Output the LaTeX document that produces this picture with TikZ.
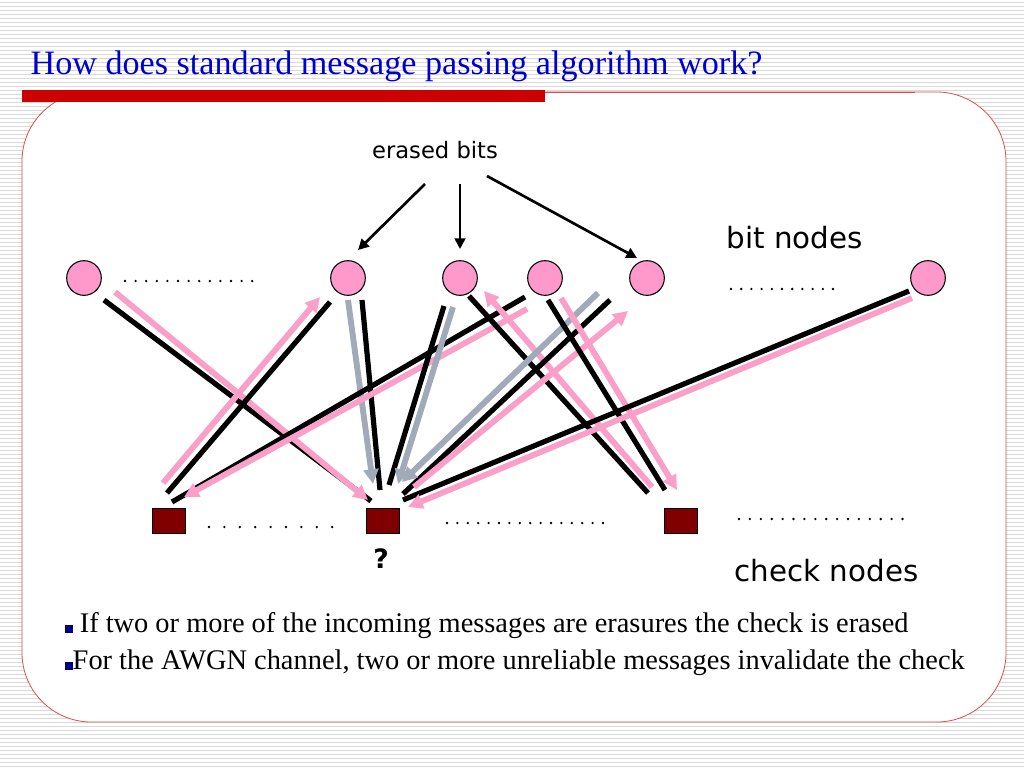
\documentclass[tikz,border=0pt]{standalone}
\usepackage{fontspec}
\setmainfont{Liberation Serif}
\setsansfont{DejaVu Sans}
\usetikzlibrary{arrows.meta}
\definecolor{pinkf}{RGB}{255,153,204}
\definecolor{pinkl}{RGB}{250,160,200}
\definecolor{grayl}{RGB}{160,170,185}
\definecolor{darkred}{RGB}{128,0,0}
\definecolor{titleblue}{RGB}{0,0,204}
\definecolor{barred}{RGB}{204,0,0}
\newcommand{\bsq}{\textcolor{blue!50!black}{\rule{6pt}{6pt}}}
\begin{document}
\begin{tikzpicture}[x=0.75pt,y=-0.75pt,
  bit/.style={circle,draw=black,line width=0.8pt,fill=pinkf,minimum size=26pt,inner sep=0pt},
  chk/.style={rectangle,draw=black,line width=0.4pt,fill=darkred,minimum width=25pt,minimum height=19pt,inner sep=0pt},
  bl/.style={line width=3.9pt,black},
  pk/.style={line width=4.4pt,pinkl,-{Triangle[length=11pt,width=11pt]}},
  gr/.style={line width=4.4pt,grayl,-{Triangle[length=11pt,width=11pt]}},
  ar/.style={line width=2pt,-{Triangle[length=8pt,width=8pt]}}]
\useasboundingbox (0,0) rectangle (1024,768);
\fill[white] (0,0) rectangle (1024,768);
\foreach \y in {2,6,...,766} \draw[gray!30,line width=0.6pt] (0,\y) -- (1024,\y);
\draw[barred!70,line width=0.6pt,fill=white,rounded corners=52pt] (22,92) rectangle (1006,722);
\fill[white] (0,0) rectangle (1024,88);
\foreach \y in {2,6,...,86} \draw[gray!30,line width=0.6pt] (0,\y) -- (1024,\y);
\fill[barred] (22,90) rectangle (545,102);
\draw[barred!70,line width=0.6pt] (545,92) -- (915,92);
\node[anchor=west,text=titleblue,font=\fontsize{25.6}{26}\selectfont] (title) at (26,66) {How does standard message passing algorithm work?};

\node[bit] (A) at (84,278) {};
\node[bit] (B) at (348,278) {};
\node[bit] (C) at (460,278) {};
\node[bit] (D) at (545,278) {};
\node[bit] (E) at (647,278) {};
\node[bit] (F) at (928,278) {};
\node[chk] (P) at (169,521) {};
\node[chk] (Q) at (383,521) {};
\node[chk] (R) at (681,521) {};

\draw[bl] (104,300) -- (371,501);
\draw[pk] (115,292) -- (368,500);
\draw[bl] (330,302) -- (167,493);
\draw[pk] (163,483) -- (320,297);
\draw[bl] (362,300) -- (380,490);
\draw[gr] (348,300) -- (373,484);
\draw[bl] (525,297) -- (172,502);
\draw[pk] (527,309) -- (184,497);
\draw[bl] (444,306) -- (389,485);
\draw[gr] (453,307) -- (398,484);
\draw[bl] (469,296) -- (648,493);
\draw[pk] (652,487) -- (484,291);
\draw[bl] (610,300) -- (403,494);
\draw[gr] (598,293) -- (402,482);
\draw[pk] (414,487) -- (628,311);
\draw[bl] (548,300) -- (665,490);
\draw[pk] (561,298) -- (677,490);
\draw[bl] (909,291) -- (403,500);
\draw[pk] (912,298) -- (408,507);

\node[font=\sffamily\fontsize{17}{17}\selectfont] (eb) at (435,150) {erased bits};
\draw[ar] (425,184) -- (358,250);
\draw[ar] (460,184) -- (460,249);
\draw[ar] (487,176) -- (637,258);

\node[anchor=west,font=\sffamily\fontsize{22}{22}\selectfont] (bn) at (722,238) {bit nodes};
\node[anchor=west,font=\sffamily\fontsize{22}{22}\selectfont] (cn) at (730,571) {check nodes};
\node[font=\sffamily\bfseries\fontsize{20}{20}\selectfont] (qm) at (381,559) {?};
\foreach \i in {0,...,12} \fill (125+10.6*\i,281) circle (1.3);
\foreach \i in {0,...,10} \fill (731+10.2*\i,289) circle (1.3);
\foreach \i in {0,...,8} \fill (209+15.4*\i,527) circle (1.3);
\foreach \i in {0,...,15} \fill (447+10.4*\i,523) circle (1.3);
\foreach \i in {0,...,15} \fill (739+10.9*\i,519) circle (1.3);

\node[anchor=west,font=\fontsize{21.3}{22}\selectfont] (t1) at (60,626) {\bsq\ If two or more of the incoming messages are erasures the check is erased};
\node[anchor=west,font=\fontsize{21.3}{22}\selectfont] (t2) at (60,663) {\bsq For the AWGN channel, two or more unreliable messages invalidate the check};
\end{tikzpicture}
\end{document}
